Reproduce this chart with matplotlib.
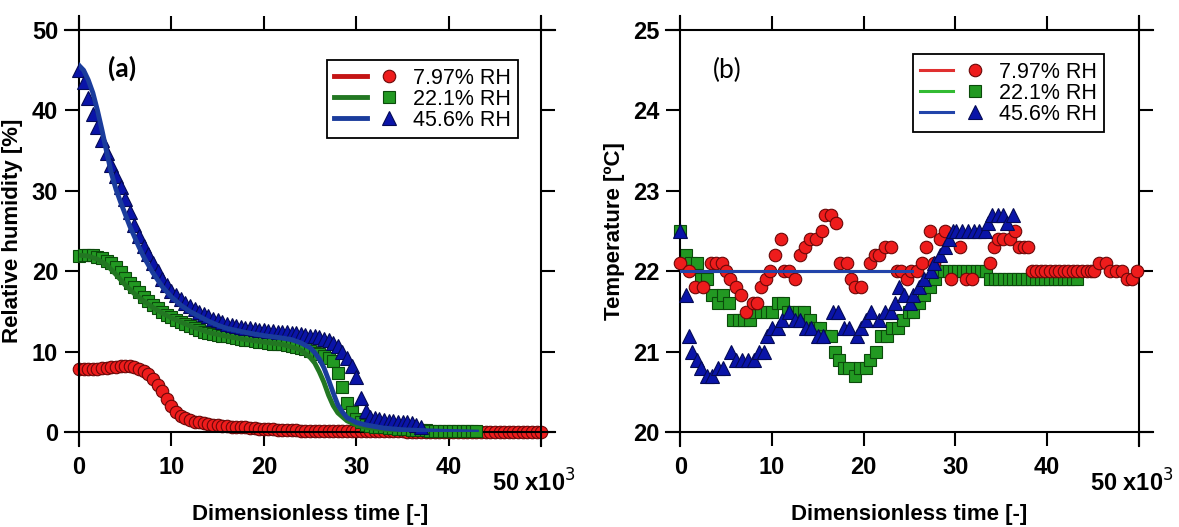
import matplotlib
matplotlib.use("Agg")
import matplotlib.pyplot as plt
from matplotlib.legend_handler import HandlerTuple

plt.rcParams['font.family'] = ['Liberation Sans', 'DejaVu Sans']

# ---------------- panel (a): relative humidity ----------------
# measured points, sampled every 0.5 (x10^3) of dimensionless time
step = 0.5
rh_red = [7.9, 7.9, 7.9, 7.9, 7.9, 8.0, 8.0, 8.1, 8.1, 8.2,
          8.2, 8.2, 8.1, 7.9, 7.6, 7.2, 6.6, 5.9, 5.1, 4.1,
          3.2, 2.5, 2.0, 1.7, 1.5, 1.3, 1.2, 1.1, 1.0, 0.9,
          0.9, 0.8, 0.8, 0.7, 0.7, 0.6, 0.6, 0.5, 0.5, 0.4,
          0.4, 0.4, 0.4, 0.3, 0.3, 0.3, 0.3, 0.3, 0.2, 0.2,
          0.2, 0.2, 0.2, 0.2, 0.2, 0.15, 0.15, 0.15, 0.1, 0.1,
          0.1, 0.1, 0.1, 0.1, 0.1, 0.1, 0.1, 0.1, 0.1, 0.1,
          0.1, 0.05, 0.05, 0.05, 0.05, 0.05, 0.0, 0.0, 0.0, 0.0,
          0.0, 0.0, 0.0, 0.0, 0.0, 0.0, 0.0, 0.0, 0.0, 0.0,
          0.0, 0.0, 0.0, 0.0, 0.0, 0.0, 0.0, 0.0, 0.0, 0.0,
          0.0]
rh_green = [21.9, 22.0, 22.0, 22.0, 21.8, 21.6, 21.3, 21.0, 20.5, 19.9,
            19.2, 18.6, 18.0, 17.4, 16.8, 16.3, 15.8, 15.4, 15.0, 14.6,
            14.3, 14.0, 13.7, 13.4, 13.2, 12.9, 12.7, 12.5, 12.3, 12.2,
            12.1, 12.0, 11.9, 11.8, 11.7, 11.6, 11.5, 11.4, 11.3, 11.2,
            11.2, 11.1, 11.0, 11.0, 10.9, 10.8, 10.7, 10.6, 10.5, 10.3,
            10.1, 9.9, 9.7, 9.5, 9.2, 8.8, 7.4, 5.6, 3.6, 2.5,
            1.6, 1.2, 0.9, 0.8, 0.7, 0.6, 0.6, 0.5, 0.5, 0.4,
            0.4, 0.4, 0.3, 0.3, 0.3, 0.3, 0.2, 0.2, 0.2, 0.2,
            0.2, 0.2, 0.2, 0.2, 0.2, 0.2, 0.2]
rh_blue = [45.0, 43.5, 41.5, 39.6, 38.0, 36.3, 34.7, 33.2, 31.9, 30.5,
           29.0, 27.4, 25.8, 24.4, 23.2, 22.1, 21.0, 20.0, 19.1, 18.3,
           17.6, 17.0, 16.5, 16.1, 15.7, 15.3, 15.0, 14.7, 14.4, 14.1,
           13.9, 13.7, 13.5, 13.3, 13.2, 13.1, 13.0, 12.9, 12.8, 12.7,
           12.7, 12.6, 12.6, 12.5, 12.5, 12.4, 12.3, 12.3, 12.2, 12.1,
           12.0, 11.9, 11.8, 11.6, 11.4, 11.1, 10.7, 10.0, 9.2, 8.2,
           6.8, 4.3, 2.6, 1.9, 1.7, 1.6, 1.5, 1.4, 1.4, 1.3,
           1.3, 1.2, 1.1, 0.9, 0.7]

# model curves
fit_red_x = [0, 2, 4, 5, 6, 7, 7.5, 8, 8.5, 9, 9.5, 10, 10.5, 11, 12, 13, 15, 20, 25, 30, 35, 40, 43]
fit_red_y = [7.9, 7.9, 8.0, 8.1, 8.0, 7.7, 7.3, 6.7, 5.8, 4.8, 3.8, 3.0, 2.4, 2.0, 1.5, 1.2, 0.9, 0.5, 0.3, 0.1, 0.05, 0.0, 0.0]
fit_green_x = [0, 1, 2, 3, 4, 5, 6, 7, 8, 9, 10, 11, 12, 13, 14, 16, 18, 20, 22, 23, 24, 25,
               25.5, 26, 26.5, 27, 27.5, 28, 29, 30, 31, 33, 35, 38, 43]
fit_green_y = [22.0, 21.9, 21.5, 20.8, 19.6, 18.3, 17.2, 16.3, 15.5, 14.8, 14.2, 13.7, 13.2, 12.8, 12.4,
               11.9, 11.5, 11.2, 10.9, 10.6, 10.2, 9.3, 8.6, 7.5, 6.2, 4.6, 3.3, 2.4, 1.4, 0.9, 0.6,
               0.35, 0.2, 0.1, 0.0]
fit_blue_x = [0, 0.5, 1, 1.5, 2, 2.5, 3, 3.5, 4, 4.5, 5, 5.5, 6, 6.5, 7, 8, 9, 10, 11, 12, 13, 14, 15,
              16, 18, 20, 22, 23, 24, 25, 25.5, 26, 26.5, 27, 27.5, 28, 28.5, 29, 30, 31, 33, 35, 38, 43]
fit_blue_y = [45.6, 45.0, 43.8, 42.2, 40.0, 37.5, 34.8, 32.2, 30.2, 28.6, 27.1, 25.6, 24.3, 23.0, 21.8,
              19.8, 18.1, 16.8, 15.8, 15.0, 14.4, 13.8, 13.3, 12.9, 12.4, 12.0, 11.7, 11.5, 11.1, 10.5,
              9.9, 9.1, 8.0, 6.5, 4.9, 3.4, 2.5, 1.8, 1.2, 0.9, 0.5, 0.3, 0.15, 0.0]

# ---------------- panel (b): temperature ----------------
t_red_x = [0, 1.0, 1.6, 2.5, 3.3, 3.9, 4.5, 5.0, 5.4, 6.1, 6.6, 7.2, 7.9, 8.4, 8.8, 9.3, 9.8, 10.3,
           11.0, 11.3, 11.9, 12.5, 13.1, 13.6, 14.1, 14.75, 15.4, 15.8, 16.4, 17.0, 17.4, 18.2, 18.6,
           19.1, 19.7, 20.7, 21.2, 21.7, 22.3, 23.0, 23.6, 24.1, 24.7, 25.2, 25.8, 26.3, 26.8, 27.25,
           27.7, 28.3, 28.9, 29.5, 30.5, 31.1, 31.8, 33.8, 34.2, 34.6, 35.2, 35.9, 36.5, 36.9, 37.5,
           37.9, 38.3, 38.8, 39.3, 39.8, 40.3, 40.8, 41.3, 41.8, 42.3, 42.8, 43.3, 43.8, 44.3, 44.8,
           45.1, 45.7, 46.4, 46.9, 47.5, 48.2, 48.7, 49.2, 49.8]
t_red = [22.1, 22.0, 21.8, 21.8, 22.1, 22.1, 22.1, 22.0, 21.9, 21.8, 21.7, 21.5, 21.6, 21.6, 21.8,
         21.9, 22.0, 22.2, 22.4, 22.0, 22.0, 21.9, 22.2, 22.3, 22.4, 22.4, 22.5, 22.7, 22.7, 22.6,
         22.1, 22.1, 21.9, 21.8, 21.8, 22.1, 22.2, 22.2, 22.3, 22.3, 22.0, 22.0, 21.9, 22.0, 22.0,
         22.1, 22.3, 22.5, 22.1, 22.4, 22.5, 21.9, 22.3, 21.9, 21.9, 22.1, 22.3, 22.4, 22.4, 22.4,
         22.5, 22.3, 22.3, 22.3, 22.0, 22.0, 22.0, 22.0, 22.0, 22.0, 22.0, 22.0, 22.0, 22.0, 22.0,
         22.0, 22.0, 22.0, 22.0, 22.1, 22.1, 22.0, 22.0, 22.0, 21.9, 21.9, 22.0]
t_green_x = [0, 0.6, 1.2, 1.8, 2.25, 2.9, 3.5, 4.1, 4.7, 5.3, 5.8, 6.4, 6.9, 7.6, 8.2, 8.8, 9.4, 10.0,
             10.6, 11.2, 11.7, 12.3, 12.9, 13.5, 14.1, 14.7, 15.2, 15.8, 16.4, 16.9, 17.3, 17.8, 18.4,
             19.0, 19.6, 20.2, 20.7, 21.3, 21.9, 22.5, 23.1, 23.7, 24.3, 24.9, 25.4, 26.0, 26.6, 27.2,
             27.8, 28.3, 28.8, 29.3, 29.8, 30.3, 30.8, 31.3, 31.8, 32.3, 32.8, 33.3, 33.8, 34.3, 34.8,
             35.3, 35.8, 36.3, 36.8, 37.3, 37.8, 38.3, 38.8, 39.3, 39.8, 40.3, 40.8, 41.3, 41.8, 42.3,
             42.8, 43.2]
t_green = [22.5, 22.2, 22.1, 22.1, 21.9, 21.9, 21.7, 21.6, 21.7, 21.6, 21.4, 21.4, 21.4, 21.4, 21.5,
           21.5, 21.5, 21.5, 21.6, 21.6, 21.5, 21.5, 21.5, 21.5, 21.4, 21.3, 21.3, 21.2, 21.2, 21.0,
           20.9, 20.8, 20.8, 20.7, 20.8, 20.8, 20.9, 21.0, 21.2, 21.2, 21.3, 21.3, 21.4, 21.5, 21.5,
           21.6, 21.7, 21.8, 21.9, 22.0, 22.0, 22.0, 22.0, 22.0, 22.0, 22.0, 22.0, 22.0, 22.0, 22.0,
           21.9, 21.9, 21.9, 21.9, 21.9, 21.9, 21.9, 21.9, 21.9, 21.9, 21.9, 21.9, 21.9, 21.9, 21.9,
           21.9, 21.9, 21.9, 21.9, 21.9]
t_blue_x = [0, 0.6, 1.0, 1.3, 1.8, 2.25, 2.9, 3.5, 4.1, 4.7, 5.5, 6.1, 6.7, 7.4, 8.0, 8.6, 9.1, 9.4,
            10.0, 10.7, 11.1, 11.9, 12.5, 13.1, 13.7, 14.3, 15.0, 15.6, 16.6, 17.2, 17.8, 18.4, 19.3,
            19.7, 20.3, 20.8, 21.7, 22.3, 23.0, 23.4, 23.8, 24.4, 25.0, 25.4, 26.0, 26.6, 27.3, 27.7,
            28.3, 28.9, 29.3, 29.7, 30.1, 30.7, 31.4, 32.0, 32.6, 33.2, 33.6, 34.0, 34.6, 35.2, 35.6,
            36.3]
t_blue = [22.5, 21.7, 21.2, 21.0, 20.9, 20.8, 20.7, 20.7, 20.8, 20.8, 21.0, 20.9, 20.9, 20.9, 20.9,
          21.0, 21.0, 21.2, 21.3, 21.3, 21.4, 21.5, 21.4, 21.4, 21.3, 21.3, 21.2, 21.2, 21.5, 21.5,
          21.3, 21.3, 21.2, 21.3, 21.4, 21.5, 21.4, 21.5, 21.5, 21.6, 21.8, 21.7, 21.6, 21.7, 21.8,
          21.9, 22.0, 22.1, 22.2, 22.3, 22.4, 22.5, 22.5, 22.5, 22.5, 22.5, 22.5, 22.5, 22.6, 22.7,
          22.7, 22.7, 22.6, 22.7]
fit_t_x = [0, 25.3]
fit_t = [22.0, 22.0]

labels = ['7.97% RH', '22.1% RH', '45.6% RH']

face = ['#ee1c1c', '#229922', '#0a14a8']
edge = ['#6a0808', '#0b4a0b', '#040a55']
line_a = ['#c41414', '#227722', '#1a3c9c']
line_b = ['#e03030', '#33bb33', '#2244aa']
mk = ['o', 's', '^']
msz = [9, 8.5, 10]


def xs(n):
    return [i * step for i in range(n)]


def style(ax, ylim, yticks):
    ax.set_xlim(0, 50)
    ax.set_ylim(*ylim)
    ax.set_xticks([0, 10, 20, 30, 40, 50])
    ax.set_xticklabels(['0', '10', '20', '30', '40', ''])
    ax.set_yticks(yticks)
    ax.tick_params(which='both', direction='out', length=10, width=1.5,
                   top=True, right=True, labelsize=17)
    ax.tick_params(axis='x', pad=7)
    ax.tick_params(axis='y', pad=5)
    for t in ax.get_xticklabels() + ax.get_yticklabels():
        t.set_fontweight('bold')
    ex = 0.031 * 50
    ey = 0.035 * (ylim[1] - ylim[0])
    for s in ['top', 'bottom']:
        ax.spines[s].set_bounds(-ex, 50 + ex)
    for s in ['left', 'right']:
        ax.spines[s].set_bounds(ylim[0] - ey, ylim[1] + ey)
    for s in ax.spines.values():
        s.set_linewidth(1.5)
    ax.text(0.985, -0.127, '50 x10$^3$', transform=ax.transAxes, ha='center', va='center',
            fontsize=17, fontweight='bold')
    ax.set_xlabel('Dimensionless time [-]', fontsize=16, fontweight='bold', labelpad=18)


fig = plt.figure(figsize=(11.79, 5.27), dpi=100)
ax1 = fig.add_axes([0.067, 0.180, 0.392, 0.763])
ax2 = fig.add_axes([0.577, 0.180, 0.389, 0.763])

leg_kw = dict(handler_map={tuple: HandlerTuple(ndivide=None, pad=0.25)},
              loc='upper right', borderaxespad=0, fontsize=15.5, handlelength=3.3,
              handletextpad=0.35, labelspacing=0.0, borderpad=0.35, frameon=True,
              fancybox=False, edgecolor='black', framealpha=1)

# panel (a)
l_r, = ax1.plot(fit_red_x, fit_red_y, color=line_a[0], lw=3.5, zorder=1)
m_r, = ax1.plot(xs(len(rh_red)), rh_red, ls='none', marker=mk[0], ms=msz[0], mfc=face[0],
                mec=edge[0], mew=0.8, zorder=2, clip_on=False)
m_g, = ax1.plot(xs(len(rh_green)), rh_green, ls='none', marker=mk[1], ms=msz[1], mfc=face[1],
                mec=edge[1], mew=0.8, zorder=3, clip_on=False)
m_b, = ax1.plot(xs(len(rh_blue)), rh_blue, ls='none', marker=mk[2], ms=msz[2], mfc=face[2],
                mec=edge[2], mew=0.8, zorder=3, clip_on=False)
l_g, = ax1.plot(fit_green_x, fit_green_y, color=line_a[1], lw=3.5, zorder=4)
l_b, = ax1.plot(fit_blue_x, fit_blue_y, color=line_a[2], lw=3.5, zorder=4)
style(ax1, (0, 50), [0, 10, 20, 30, 40, 50])
ax1.set_ylabel('Relative humidity [%]', fontsize=16, fontweight='bold', labelpad=6)
ax1.text(0.063, 0.905, '(a)', transform=ax1.transAxes, fontsize=19, fontweight='bold',
         family=['Lato', 'DejaVu Sans'], va='center')
lg1 = ax1.legend([(l_r, m_r), (l_g, m_g), (l_b, m_b)], labels,
                 bbox_to_anchor=(0.95, 0.925), **leg_kw)
lg1.get_frame().set_linewidth(1.3)

# panel (b)
lr2, = ax2.plot(fit_t_x, fit_t, color=line_b[0], lw=2.2, zorder=1)
lg2, = ax2.plot(fit_t_x, fit_t, color=line_b[1], lw=2.2, zorder=1)
mg2, = ax2.plot(t_green_x, t_green, ls='none', marker=mk[1], ms=msz[1], mfc=face[1],
                mec=edge[1], mew=0.8, zorder=2, clip_on=False)
mr2, = ax2.plot(t_red_x, t_red, ls='none', marker=mk[0], ms=msz[0], mfc=face[0],
                mec=edge[0], mew=0.8, zorder=3, clip_on=False)
mb2, = ax2.plot(t_blue_x, t_blue, ls='none', marker=mk[2], ms=msz[2], mfc=face[2],
                mec=edge[2], mew=0.8, zorder=4, clip_on=False)
lb2, = ax2.plot(fit_t_x, fit_t, color=line_b[2], lw=2.2, zorder=5)
style(ax2, (20, 25), [20, 21, 22, 23, 24, 25])
ax2.set_ylabel('Temperature [ºC]', fontsize=16, fontweight='bold', labelpad=6)
ax2.text(0.07, 0.9, '(b)', transform=ax2.transAxes, fontsize=19,
         family=['Lato', 'DejaVu Sans'], va='center')
lg2_ = ax2.legend([(lr2, mr2), (lg2, mg2), (lb2, mb2)], labels,
                  bbox_to_anchor=(0.924, 0.94), **leg_kw)
lg2_.get_frame().set_linewidth(1.3)

fig.savefig('out.png', dpi=100)
